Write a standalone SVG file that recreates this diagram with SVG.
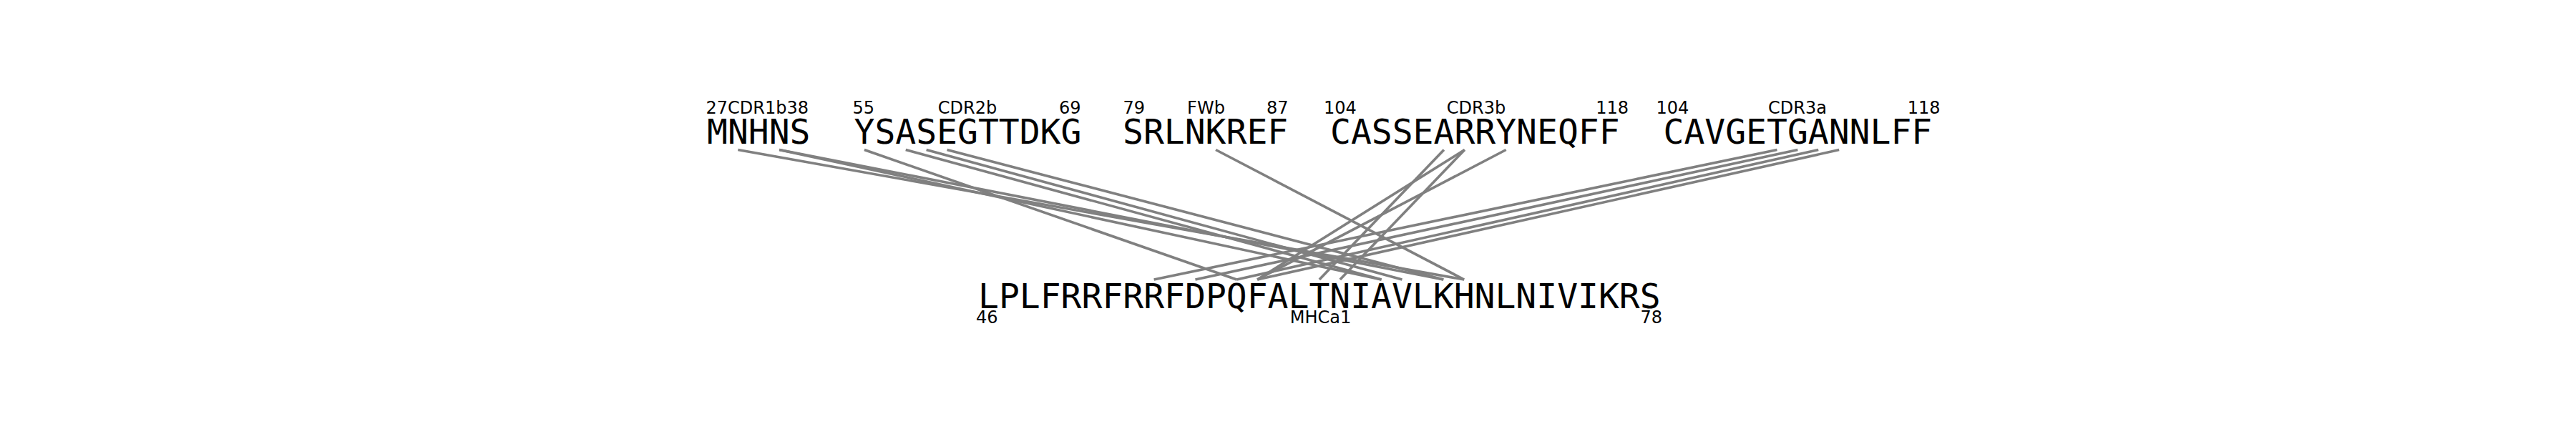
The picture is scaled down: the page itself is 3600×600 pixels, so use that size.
<svg xmlns="http://www.w3.org/2000/svg" width="3600" height="600" viewBox="0 0 3600 600">
<style>
.seq{font-family:"DejaVu Sans Mono","Liberation Mono",monospace;font-size:48px;fill:#000}
.lab{font-family:"DejaVu Sans","Liberation Sans",sans-serif;font-size:24px;fill:#000}
.m{text-anchor:middle}
.e{text-anchor:end}
#connectors line{stroke:#808080;stroke-width:3.6;stroke-linecap:butt}
</style>
<rect width="3600" height="600" fill="#fff"/>
<g id="connectors">
<line x1="1031.35" y1="209.5" x2="2046.15" y2="391"/>
<line x1="1089.15" y1="209.5" x2="1930.55" y2="391"/>
<line x1="1089.15" y1="209.5" x2="2017.25" y2="391"/>
<line x1="1207.95" y1="209.5" x2="1728.25" y2="391"/>
<line x1="1265.75" y1="209.5" x2="1930.55" y2="391"/>
<line x1="1294.65" y1="209.5" x2="1959.45" y2="391"/>
<line x1="1323.55" y1="209.5" x2="2017.25" y2="391"/>
<line x1="1699.05" y1="209.5" x2="2046.15" y2="391"/>
<line x1="2017.95" y1="209.5" x2="1843.85" y2="391"/>
<line x1="2046.85" y1="209.5" x2="1872.75" y2="391"/>
<line x1="2046.85" y1="209.5" x2="1757.15" y2="391"/>
<line x1="2104.65" y1="209.5" x2="1757.15" y2="391"/>
<line x1="2483.45" y1="209.5" x2="1612.65" y2="391"/>
<line x1="2512.35" y1="209.5" x2="1670.45" y2="391"/>
<line x1="2541.25" y1="209.5" x2="1728.25" y2="391"/>
<line x1="2570.15" y1="209.5" x2="1757.15" y2="391"/>
</g>
<g id="cdr1b">
<text class="seq" x="988" y="200.5">MNHNS</text>
<text class="lab" x="986.5" y="159"><tspan>27</tspan><tspan>CDR1b</tspan><tspan>38</tspan></text>
</g>
<g id="cdr2b">
<text class="seq" x="1193.5" y="200.5">YSASEGTTDKG</text>
<text class="lab" x="1191.5" y="159">55</text>
<text class="lab m" x="1352" y="159">CDR2b</text>
<text class="lab e" x="1510.5" y="159">69</text>
</g>
<g id="fwb">
<text class="seq" x="1569" y="200.5">SRLNKREF</text>
<text class="lab" x="1569.5" y="159">79</text>
<text class="lab m" x="1685.5" y="159">FWb</text>
<text class="lab e" x="1800.5" y="159">87</text>
</g>
<g id="cdr3b">
<text class="seq" x="1859" y="200.5">CASSEARRYNEQFF</text>
<text class="lab" x="1850" y="159">104</text>
<text class="lab m" x="2063" y="159">CDR3b</text>
<text class="lab e" x="2276" y="159">118</text>
</g>
<g id="cdr3a">
<text class="seq" x="2324.5" y="200.5">CAVGETGANNLFF</text>
<text class="lab" x="2314.5" y="159">104</text>
<text class="lab m" x="2512" y="159">CDR3a</text>
<text class="lab e" x="2711.5" y="159">118</text>
</g>
<g id="mhca1">
<text class="seq" x="1367" y="430.5">LPLFRRFRRFDPQFALTNIAVLKHNLNIVIKRS</text>
<text class="lab" x="1364" y="452">46</text>
<text class="lab m" x="1845.5" y="452">MHCa1</text>
<text class="lab e" x="2323" y="452">78</text>
</g>
</svg>
